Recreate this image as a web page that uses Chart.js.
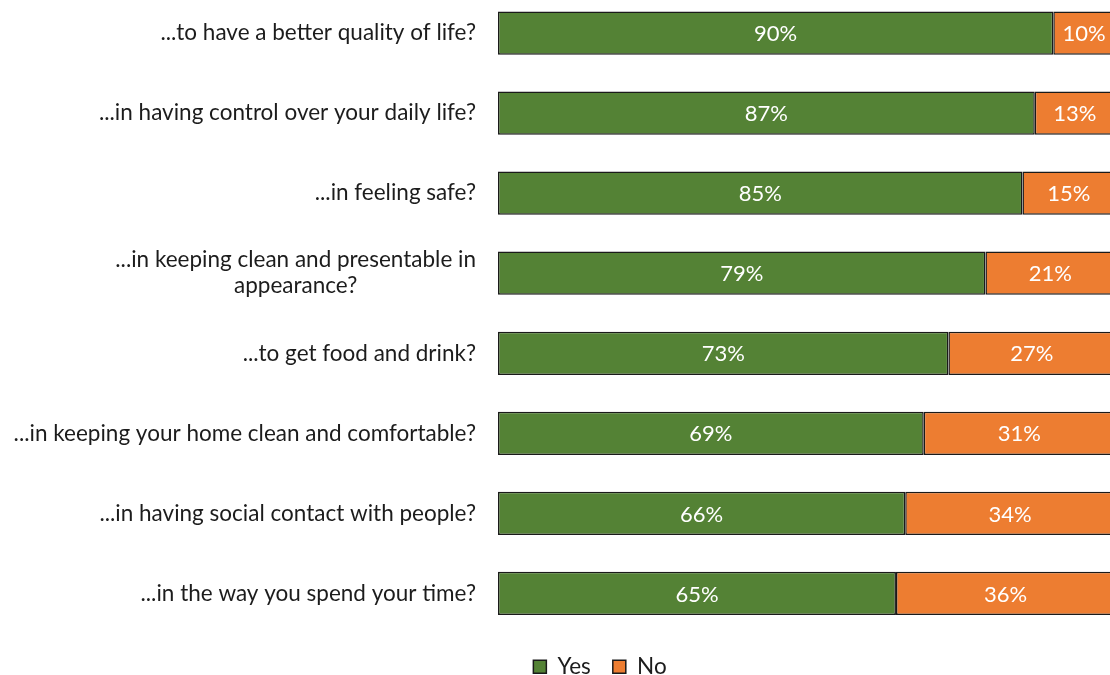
<!DOCTYPE html>
<html>
<head>
<meta charset="utf-8">
<script src="https://cdn.jsdelivr.net/npm/chart.js@4.4.1/dist/chart.umd.min.js"></script>
<style>
  html, body { margin: 0; padding: 0; background: #fff; overflow: hidden; width: 1110px; height: 675px; }
  #wrap { position: absolute; left: 0; top: -7px; width: 1200px; height: 699px; }
</style>
</head>
<body>
<div id="wrap"><canvas id="chart" width="1200" height="699"></canvas></div>
<script>
// survey answers, share of respondents in %
const categories = [
    '...to have a better quality of life?',
    '...in having control over your daily life?',
    '...in feeling safe?',
    ['...in keeping clean and presentable in', 'appearance?'],
    '...to get food and drink?',
    '...in keeping your home clean and comfortable?',
    '...in having social contact with people?',
    '...in the way you spend your time?'
];
const seriesNames = ['Yes', 'No'];
const yesValues = [90, 87, 85, 79, 73, 69, 66, 64.5];
const noValues = [10, 13, 15, 21, 27, 31, 34, 35.5];

const FONT = 'Lato, "Open Sans", sans-serif';
const TEXT = '#1c1c1c';

// draws the category labels: block right-aligned, lines centred
const categoryLabels = {
    id: 'categoryLabels',
    afterDraw(chart) {
        const ctx = chart.ctx;
        const y = chart.scales.y;
        ctx.save();
        ctx.font = '22.5px ' + FONT;
        ctx.fillStyle = TEXT;
        ctx.textAlign = 'center';
        ctx.textBaseline = 'middle';
        categories.forEach((c, i) => {
            const lines = Array.isArray(c) ? c : [c];
            const w = Math.max(...lines.map(l => ctx.measureText(l).width));
            const cx = chart.chartArea.left - 22 - w / 2;
            const lh = 26;
            const y0 = y.getPixelForTick(i) - (lines.length - 1) * lh / 2;
            lines.forEach((l, j) => ctx.fillText(l, cx, y0 + j * lh));
        });
        ctx.restore();
    }
};

// white percentage in the middle of each segment
const valueLabels = {
    id: 'valueLabels',
    afterDatasetsDraw(chart) {
        const ctx = chart.ctx;
        ctx.save();
        ctx.font = '22px ' + FONT;
        ctx.fillStyle = '#ffffff';
        ctx.textAlign = 'center';
        ctx.textBaseline = 'middle';
        chart.data.datasets.forEach((ds, di) => {
            chart.getDatasetMeta(di).data.forEach((bar, i) => {
                const p = bar.getCenterPoint();
                ctx.fillText(Math.round(ds.data[i]) + '%', p.x, p.y + 1);
            });
        });
        ctx.restore();
    }
};

const ctx = document.getElementById('chart').getContext('2d');
new Chart(ctx, {
    type: 'bar',
    data: {
        labels: categories,
        datasets: [
            { label: seriesNames[0], data: yesValues, backgroundColor: '#548235' },
            { label: seriesNames[1], data: noValues, backgroundColor: '#ed7d31' }
        ]
    },
    options: {
        indexAxis: 'y',
        responsive: false,
        animation: false,
        devicePixelRatio: 1,
        layout: { padding: { top: 0, bottom: 4, left: 0, right: 0 } },
        datasets: {
            bar: {
                borderColor: '#1a1a1a',
                borderWidth: 1.5,
                borderSkipped: false,
                categoryPercentage: 1,
                barPercentage: 0.54
            }
        },
        plugins: {
            legend: {
                position: 'bottom',
                labels: {
                    color: TEXT,
                    font: { family: FONT, size: 22.5 },
                    boxWidth: 13,
                    boxHeight: 13,
                    padding: 22
                }
            },
            tooltip: { enabled: false }
        },
        scales: {
            x: {
                stacked: true,
                min: 0,
                max: 100,
                display: false
            },
            y: {
                stacked: true,
                ticks: { display: false },
                grid: { display: false },
                border: { display: false },
                afterFit: s => { s.width = 498; }
            },
            // empty strip on the right so the plot runs off the page edge
            yRight: {
                type: 'linear',
                position: 'right',
                ticks: { display: false },
                grid: { display: false },
                border: { display: false },
                afterFit: s => { s.width = 85; }
            }
        }
    },
    plugins: [categoryLabels, valueLabels]
});
</script>
</body>
</html>
